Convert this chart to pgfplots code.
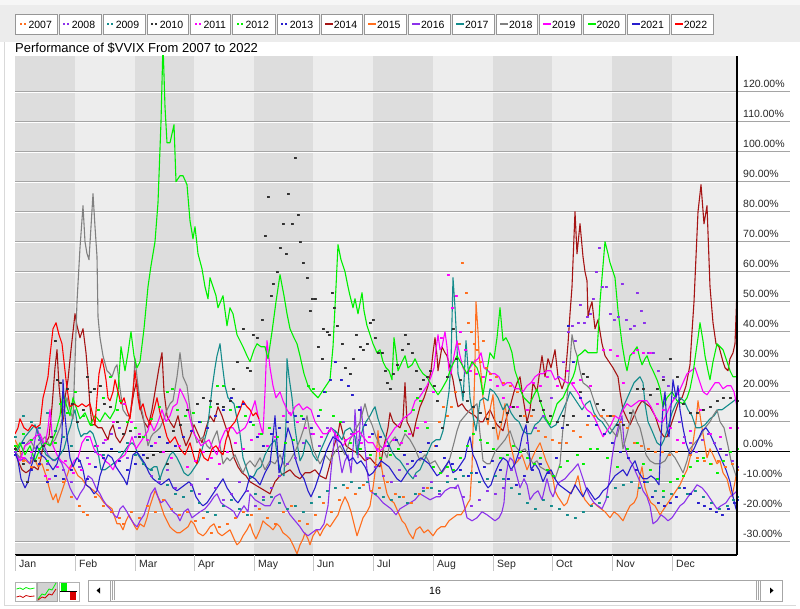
\documentclass[border=0pt]{standalone}
\usepackage{pgfplots}
\pgfplotsset{compat=1.18}
\usepackage{fontspec}
\setmainfont{Liberation Sans}
\definecolor{c07}{RGB}{255,110,30}
\definecolor{c08}{RGB}{140,50,235}
\definecolor{c09}{RGB}{20,140,140}
\definecolor{c10}{RGB}{50,50,50}
\definecolor{c11}{RGB}{255,0,255}
\definecolor{c12}{RGB}{0,240,0}
\definecolor{c13}{RGB}{40,30,205}
\definecolor{c14}{RGB}{165,20,20}
\definecolor{c15}{RGB}{255,110,30}
\definecolor{c16}{RGB}{140,50,235}
\definecolor{c17}{RGB}{20,140,140}
\definecolor{c18}{RGB}{128,128,128}
\definecolor{c19}{RGB}{255,0,255}
\definecolor{c20}{RGB}{0,240,0}
\definecolor{c21}{RGB}{40,30,205}
\definecolor{c22}{RGB}{255,0,0}
\definecolor{banddark}{RGB}{221,221,221}
\definecolor{bandlight}{RGB}{237,237,237}
\definecolor{gridg}{RGB}{165,165,165}
\definecolor{stripg}{RGB}{236,236,236}
\begin{document}
\begin{tikzpicture}[x=1pt,y=1pt]
\fill[white] (0,0) rectangle (800,608);
\fill[stripg] (0,566) rectangle (800,603);
\fill[white!50!stripg] (0,603) rectangle (800,608);
\draw[gray!30] (4,3) -- (4,566);
\draw[gray!30] (4,3) -- (796,3);
% legend
\foreach \xl/\xr/\col/\lab in {15.7/57.3/c07/2007,59/101/c08/2008,103/145/c09/2009,147/188.7/c10/2010,190.7/230.7/c11/2011,232.7/275/c12/2012,277/319.3/c13/2013}{
  \draw[fill=white, draw={rgb,255:red,150;green,150;blue,150}, line width=0.8pt] (\xl,573.3) rectangle (\xr,594);
  \fill[\col] ({\xl+4.3},582.9) rectangle ++(1.7,1.7);
  \fill[\col] ({\xl+8.3},582.9) rectangle ++(1.7,1.7);
  \node[anchor=base west, inner sep=0pt, font=\fontsize{10.5}{12}\selectfont] at ({\xl+12.6},579.8) {\lab};
}
\foreach \xl/\xr/\col/\lab in {321/362.3/c14/2014,364.3/406.3/c15/2015,408.3/450.7/c16/2016,452.3/494.3/c17/2017,496.3/537.3/c18/2018,539.3/581.7/c19/2019,583.7/625.7/c20/2020,627.7/669.3/c21/2021,671/713.3/c22/2022}{
  \draw[fill=white, draw={rgb,255:red,150;green,150;blue,150}, line width=0.8pt] (\xl,573.3) rectangle (\xr,594);
  \fill[\col] ({\xl+4},582.7) rectangle ({\xl+12},584.7);
  \node[anchor=base west, inner sep=0pt, font=\fontsize{10.5}{12}\selectfont] at ({\xl+12.6},579.8) {\lab};
}
% title
\node[anchor=base west, inner sep=0pt, font=\fontsize{13}{15}\selectfont] at (15,555.8) {Performance of \$VVIX From 2007 to 2022};
% gridline extensions to the right
\foreach \v in {-30,-20,...,120}{
  \draw[gridg, line width=0.9pt] (737,{156.3+3*\v}) -- (790,{156.3+3*\v});
  \draw[white, line width=0.6pt] (737,{156.3+3*\v-1}) -- (790,{156.3+3*\v-1});
}
\draw[black, line width=1.1pt] (737,156.3) -- (790,156.3);
\begin{axis}[at={(15pt,53pt)}, anchor=south west, width=722pt, height=499pt, scale only axis,
  xmin=15, xmax=737, ymin=-34.4, ymax=131.9,
  axis line style={draw=none}, major tick length=0pt, xtick=\empty,
  ytick={-30,-20,-10,0,10,20,30,40,50,60,70,80,90,100,110,120}, yticklabel pos=right,
  yticklabel={\pgfmathprintnumber[fixed,fixed zerofill,precision=2,assume math mode=true]{\tick}\%},
  yticklabel style={anchor=base west, inner sep=0pt, xshift=6pt, yshift=4.5pt, font=\fontsize{10.5}{12}\selectfont, text={rgb,255:red,40;green,40;blue,40}},
  line join=round]
\fill[bandlight] (axis cs:15,-34.4) rectangle (axis cs:737,131.9);
\fill[banddark] (axis cs:15,-34.4) rectangle (axis cs:75,131.9);
\fill[banddark] (axis cs:135,-34.4) rectangle (axis cs:194,131.9);
\fill[banddark] (axis cs:254,-34.4) rectangle (axis cs:313,131.9);
\fill[banddark] (axis cs:373,-34.4) rectangle (axis cs:433,131.9);
\fill[banddark] (axis cs:493,-34.4) rectangle (axis cs:552,131.9);
\fill[banddark] (axis cs:612,-34.4) rectangle (axis cs:672,131.9);
\pgfplotsinvokeforeach{-30,-20,-10,0,10,20,30,40,50,60,70,80,90,100,110,120}{
  \draw[gridg, line width=0.9pt] (axis cs:15,#1) -- (axis cs:737,#1);
  \draw[white, line width=0.6pt] ([yshift=-1pt]axis cs:15,#1) -- ([yshift=-1pt]axis cs:737,#1);
}
\draw[black, line width=1.1pt] (axis cs:15,0) -- (axis cs:737,0);
% ---- dotted series 2007-2013
\addplot[only marks, mark=square*, mark size=0.85pt, c07, mark options={draw=none,fill=c07}] coordinates {
(15,2)(23,-3)(31,-5)(39,-2)(47,-6)(55,-8)(63,-10)(71,-15)(79,-18)(83,-20)(87,-21)(95,-15)(103,-18)(111,-20)(119,-22)(123,-24)(131,-20)(139,-22)(147,-18)(155,-20)(163,-16)(171,-19)(179,-21)(187,-20)(195,-23)(203,-22)(211,-27)(219,-25)(227,-24)(235,-22)(243,-20)(251,-21)(259,-19)(267,-22)(275,-24)(283,-20)(291,-18)(299,-23)(307,-24)(315,-21)(323,-17)(331,-20)(339,-16)(347,-12)(355,-14)(363,-11)(371,-13)(379,-12)(387,-10)(395,-14)(403,-15)(411,-17)(419,-14)(427,-12)(435,2)(439,10)(443,15)(447,12)(451,15)(455,20)(459,36)(462,63)(466,53)(468,43)(471,40)(474,36)(477,34)(480,30)(483,37)(486,28)(490,26)(496,25)(503,23)(510,22)(517,20)(524,12)(531,12)(538,7)(545,5)(552,4)(559,3)(566,3)(573,7)(580,5)(587,9)(594,12)(601,12)(607,12)(613,12)(620,10)(627,8)(634,3)(641,2)(648,1)(655,0)(662,0)(669,-1)(676,0)(683,3)(690,-1)(697,-2)(704,-3)(711,-4)(718,-3)(725,-5)(732,-4)(737,-6)};
\addplot[only marks, mark=square*, mark size=0.85pt, c08, mark options={draw=none,fill=c08}] coordinates {
(15,0)(23,3)(31,-2)(39,4)(47,-4)(55,-8)(63,-6)(71,-10)(79,-5)(87,-2)(95,0)(103,3)(111,6)(119,8)(127,-2)(135,5)(143,-4)(151,-8)(159,-10)(167,-6)(175,-12)(183,-15)(191,-11)(199,-14)(207,-9)(215,-12)(223,-16)(231,-14)(239,-10)(247,-13)(255,-18)(263,-15)(271,-12)(279,-8)(287,-4)(295,-2)(303,3)(311,6)(319,2)(327,8)(335,5)(343,10)(351,6)(359,4)(367,-2)(375,-5)(383,-8)(391,-10)(399,-6)(407,-4)(415,-8)(423,-12)(431,-10)(439,-14)(447,-8)(455,-12)(463,-15)(471,-18)(479,-16)(487,-13)(495,-14)(503,-12)(511,-6)(519,-2)(527,3)(535,8)(543,12)(551,18)(558,25)(563,30)(568,40)(572,42)(575,37)(578,43)(580,49)(584,43)(587,45)(590,46)(593,51)(596,60)(599,68)(602,55)(606,55)(610,46)(614,44)(618,45)(622,56)(626,44)(630,41)(634,42)(637,53)(641,47)(644,43)(648,33)(653,33)(658,27)(663,25)(668,22)(674,18)(679,10)(684,5)(690,3)(696,0)(702,4)(708,6)(714,3)(720,1)(726,-1)(732,-3)(737,-5)};
\addplot[only marks, mark=square*, mark size=0.85pt, c09, mark options={draw=none,fill=c09}] coordinates {
(15,5)(23,12)(31,10)(39,8)(47,13)(55,7)(63,5)(71,2)(79,-3)(87,4)(95,2)(103,-1)(111,1)(119,0)(127,3)(135,-1)(143,-4)(151,-6)(159,-9)(167,-11)(175,-14)(183,-15)(191,-13)(199,-17)(207,-20)(215,-21)(223,-18)(231,-16)(239,-19)(247,-21)(255,-14)(263,-16)(271,-15)(279,-17)(287,-19)(295,-18)(303,-20)(311,-17)(319,-15)(327,-13)(335,-12)(343,-11)(351,-10)(359,-12)(367,-10)(375,-14)(383,-15)(391,-16)(399,-15)(407,-17)(415,-14)(423,-13)(431,-12)(439,-13)(447,-10)(455,-9)(463,-8)(471,-7)(479,-10)(487,-9)(495,-8)(503,-9)(511,-12)(519,-14)(527,-17)(535,-19)(543,-16)(551,-18)(559,-19)(567,-21)(575,-22)(583,-20)(591,-18)(599,-17)(607,-15)(615,-12)(623,-11)(631,-10)(639,-12)(647,-10)(655,-13)(663,-15)(671,-14)(679,-12)(687,-14)(695,-13)(703,-15)(711,-17)(719,-19)(727,-18)(733,-16)(737,-15)};
\addplot[only marks, mark=square*, mark size=0.85pt, c10, mark options={draw=none,fill=c10}] coordinates {
(15,1)(23,-4)(27,-10)(35,-3)(43,2)(51,5)(55,37)(57,24)(60,23)(67,21)(72,16)(77,10)(83,14)(87,25)(90,20)(94,21)(100,22)(104,16)(110,15)(117,10)(123,6)(130,7)(139,5)(147,-2)(153,-1)(160,0)(167,-4)(173,7)(180,9)(187,14)(197,16)(203,18)(210,17)(217,16)(223,15)(230,17)(233,21)(237,30)(243,41)(247,28)(250,27)(253,39)(257,38)(262,44)(265,72)(268,85)(271,52)(273,56)(277,60)(280,68)(283,76)(286,66)(288,86)(292,76)(295,98)(298,79)(300,70)(303,63)(307,58)(310,47)(312,51)(315,51)(318,35)(322,31)(323,41)(327,40)(329,39)(332,53)(334,48)(337,42)(342,36)(345,28)(350,26)(353,31)(356,39)(360,35)(363,34)(367,36)(370,43)(373,44)(375,38)(378,33)(382,33)(385,27)(387,23)(390,21)(393,26)(397,29)(402,34)(405,39)(408,36)(412,33)(416,27)(420,21)(423,24)(427,25)(430,27)(434,22)(437,17)(442,8)(447,25)(453,41)(456,31)(460,24)(463,20)(467,17)(473,15)(480,13)(487,11)(493,8)(500,10)(507,13)(513,15)(520,12)(527,10)(533,14)(540,17)(543,14)(550,12)(557,10)(563,12)(567,9)(573,12)(580,20)(583,26)(587,25)(590,22)(597,16)(603,14)(610,12)(617,9)(623,9)(630,13)(637,21)(643,21)(650,19)(657,21)(663,24)(670,31)(677,25)(683,16)(690,13)(697,13)(703,14)(710,15)(717,17)(723,18)(730,18)(737,17)};
\addplot[only marks, mark=square*, mark size=0.85pt, c11, mark options={draw=none,fill=c11}] coordinates {
(15,2)(23,-2)(31,0)(39,-4)(45,-8)(49,-9)(57,-5)(65,-3)(73,-7)(81,-6)(89,-4)(97,2)(105,4)(113,10)(120,17)(124,16)(131,10)(139,6)(147,4)(155,3)(163,0)(171,-2)(179,2)(187,-5)(195,-3)(203,0)(211,-2)(219,-4)(227,0)(235,3)(243,1)(251,4)(259,6)(267,2)(275,5)(283,12)(289,13)(297,10)(305,8)(313,6)(321,5)(329,7)(337,5)(345,4)(353,6)(361,3)(369,5)(377,1)(385,2)(393,4)(401,3)(409,6)(417,8)(425,10)(433,20)(441,38)(448,59)(452,48)(456,52)(460,40)(465,34)(470,27)(476,26)(483,25)(490,24)(497,22)(503,18)(510,15)(517,15)(527,14)(533,23)(540,22)(547,25)(557,22)(567,27)(573,23)(580,24)(590,22)(603,34)(610,34)(617,32)(623,23)(633,33)(637,34)(643,33)(650,33)(657,16)(663,14)(670,8)(677,4)(683,3)(690,7)(700,14)(710,6)(720,5)(730,8)(737,8)};
\addplot[only marks, mark=square*, mark size=0.85pt, c12, mark options={draw=none,fill=c12}] coordinates {
(15,2)(23,6)(31,4)(39,1)(47,-3)(55,3)(60,16)(67,13)(75,20)(83,12)(91,9)(98,14)(103,18)(110,25)(117,14)(120,17)(127,10)(135,8)(143,5)(151,11)(159,15)(167,20)(172,21)(177,14)(185,12)(193,13)(200,10)(210,15)(217,22)(223,22)(230,14)(237,15)(245,12)(253,9)(261,6)(269,8)(277,5)(285,3)(293,4)(301,12)(308,22)(313,21)(320,14)(325,20)(333,12)(340,10)(350,3)(360,1)(370,-1)(380,-2)(390,-1)(398,1)(405,7)(413,14)(417,18)(420,17)(427,8)(433,-5)(440,-7)(447,-5)(453,-6)(460,-2)(467,2)(473,6)(480,4)(487,3)(493,1)(500,-2)(507,-1)(513,2)(520,0)(527,-2)(534,-4)(540,-2)(547,-6)(553,-8)(560,-5)(567,-3)(577,-1)(583,-4)(590,1)(597,1)(607,-2)(617,-5)(627,1)(637,3)(643,-4)(650,-6)(657,-9)(663,-13)(670,-10)(677,-9)(683,-8)(690,-5)(697,-3)(703,-2)(710,-4)(717,-7)(723,-3)(730,0)(737,1)};
\addplot[only marks, mark=square*, mark size=0.85pt, c13, mark options={draw=none,fill=c13}] coordinates {
(15,-1)(23,3)(31,-6)(39,-4)(47,-10)(55,-8)(63,-9)(71,-6)(79,-3)(87,-9)(95,-5)(103,-2)(111,1)(119,-3)(127,-6)(135,-4)(143,-1)(151,2)(159,5)(167,3)(175,2)(183,5)(191,7)(199,10)(207,8)(215,12)(223,14)(231,18)(239,15)(243,16)(250,10)(257,5)(263,2)(271,6)(279,8)(287,10)(295,12)(303,11)(311,8)(318,12)(324,20)(330,24)(335,30)(341,24)(348,22)(352,19)(359,14)(365,9)(372,6)(380,5)(388,2)(396,4)(404,-1)(412,-3)(420,0)(428,3)(436,2)(444,-2)(452,-4)(460,-6)(468,-8)(476,-7)(484,-5)(492,-3)(500,-6)(508,-9)(516,-11)(524,-8)(532,-6)(540,-4)(548,-7)(556,-2)(562,8)(568,42)(573,30)(580,18)(588,12)(596,9)(604,6)(612,3)(620,0)(628,-2)(636,-6)(644,-10)(652,-15)(658,-17)(664,-18)(670,-17)(676,-15)(684,-12)(690,-14)(698,-17)(704,-18)(710,-19)(716,-20)(722,-21)(728,-19)(734,-17)(737,-16)};
% ---- line series 2014-2022
\addplot[c14, line width=1.1pt] coordinates {
(15,2)(18,-3)(22,-6)(26,-7)(30,-6)(34,-5)(38,-6)(41,-2)(43,2)(46,3)(49,5)(52,15)(55,28)(57,34)(59,22)(61,15)(63,10)(65,18)(68,24)(71,34)(73,40)(75,46)(77,42)(80,38)(83,41)(86,33)(88,25)(90,15)(92,9)(95,9)(98,8)(102,8)(105,6)(108,4)(110,7)(113,9)(116,5)(120,3)(125,6)(130,12)(134,20)(137,24)(140,15)(144,10)(148,8)(152,14)(156,22)(159,28)(162,33)(164,20)(167,12)(170,10)(174,8)(178,12)(182,6)(186,2)(190,5)(194,9)(198,6)(202,3)(206,8)(210,12)(214,10)(218,15)(222,12)(226,8)(230,4)(234,-2)(238,-5)(242,-7)(246,-8)(250,-10)(255,-11)(260,-12)(265,-13)(270,-14)(275,-10)(280,-8)(285,-7)(290,-6)(295,-8)(300,-9)(305,-7)(310,-7)(315,-6)(320,-8)(326,-9)(330,-4)(334,2)(338,6)(340,10)(343,6)(346,2)(350,1)(355,0)(360,-1)(365,-3)(370,-2)(375,-4)(380,-5)(384,2)(388,8)(390,13)(393,10)(396,9)(400,8)(403,11)(405,23)(407,10)(410,8)(413,5)(416,10)(420,15)(424,18)(428,22)(431,27)(433,33)(435,38)(437,32)(438,27)(440,31)(442,35)(445,33)(447,32)(450,28)(453,24)(456,18)(458,15)(462,16)(466,14)(470,13)(475,12)(480,10)(483,10)(486,12)(490,14)(494,11)(497,9)(500,8)(503,7)(507,12)(510,15)(514,20)(517,23)(520,25)(523,18)(527,10)(530,14)(533,23)(537,20)(539,25)(542,32)(545,25)(548,31)(551,28)(555,34)(558,25)(562,21)(565,24)(568,36)(570,46)(572,55)(575,80)(577,66)(580,76)(583,65)(585,60)(587,57)(588,45)(590,48)(592,50)(595,41)(598,44)(602,36)(605,32)(609,30)(613,28)(618,25)(620,20)(623,14)(627,11)(630,9)(634,12)(638,15)(642,17)(646,16)(650,15)(655,12)(660,7)(664,5)(667,5)(671,9)(675,13)(679,17)(682,18)(686,22)(690,29)(692,40)(694,50)(696,65)(698,80)(701,89)(704,76)(707,82)(710,55)(713,43)(716,36)(719,35)(723,30)(725,28)(728,27)(730,31)(733,33)(735,36)(737,54)};
\addplot[c15, line width=1.1pt] coordinates {
(15,4)(18,2)(22,-2)(26,-3)(30,-4)(34,-2)(38,-5)(42,-4)(46,-8)(50,-13)(53,-16)(56,-14)(58,-17)(61,-14)(64,-11)(67,-8)(70,-5)(72,-4)(75,-6)(78,-8)(82,-9)(86,-11)(90,-12)(94,-13)(97,-14)(100,-15)(104,-17)(108,-18)(112,-19)(115,-22)(117,-24)(120,-24)(123,-26)(126,-23)(129,-21)(132,-23)(135,-25)(137,-26)(140,-24)(144,-25)(147,-22)(150,-18)(153,-15)(155,-13)(158,-15)(161,-18)(164,-21)(167,-23)(170,-25)(173,-26)(177,-27)(180,-27)(184,-26)(188,-25)(191,-23)(194,-24)(198,-27)(203,-28)(206,-27)(210,-25)(214,-24)(218,-27)(222,-28)(226,-27)(230,-26)(234,-29)(237,-31)(240,-30)(243,-28)(247,-26)(250,-24)(253,-27)(256,-29)(260,-26)(263,-23)(266,-24)(270,-25)(273,-26)(277,-24)(280,-25)(283,-27)(287,-28)(290,-29)(293,-31)(297,-34)(300,-31)(303,-29)(305,-27)(308,-29)(310,-31)(313,-28)(317,-26)(320,-28)(323,-26)(327,-24)(330,-25)(334,-23)(338,-21)(341,-18)(345,-15)(348,-17)(351,-20)(354,-24)(357,-28)(360,-25)(363,-22)(367,-20)(370,-18)(373,-12)(375,-7)(377,2)(378,7)(380,-2)(383,-8)(387,-14)(390,-16)(394,-17)(398,-20)(402,-23)(405,-24)(409,-27)(413,-29)(416,-26)(420,-25)(424,-27)(428,-26)(433,-28)(437,-26)(441,-25)(445,-25)(449,-23)(453,-22)(457,-21)(461,-21)(465,-19)(468,-17)(470,-16)(472,-5)(473,6)(475,30)(476,50)(478,40)(479,33)(481,26)(483,18)(486,12)(488,9)(490,14)(493,19)(495,10)(498,4)(500,7)(503,12)(505,16)(508,8)(510,3)(513,-1)(515,-4)(518,-3)(522,-1)(525,-4)(527,-6)(531,-3)(535,0)(540,3)(543,0)(546,-3)(550,-6)(553,-9)(555,-13)(558,-15)(560,-16)(564,-18)(567,-17)(570,-14)(574,-12)(578,-8)(581,-13)(585,-16)(590,-18)(594,-17)(597,-18)(601,-19)(605,-20)(610,-22)(614,-20)(618,-21)(623,-23)(627,-20)(630,-18)(634,-17)(637,-15)(640,-8)(642,-5)(645,-12)(648,-15)(651,-17)(655,-18)(660,-21)(664,-19)(668,-17)(672,-15)(676,-13)(680,-11)(684,-8)(687,-6)(690,-2)(693,3)(696,10)(698,17)(701,10)(704,4)(707,-2)(710,1)(713,-1)(717,-4)(720,-3)(723,-7)(727,-9)(730,-13)(732,-15)(735,-10)(737,-6)};
\addplot[c16, line width=1.1pt] coordinates {
(15,0)(20,-3)(25,-2)(30,-4)(34,2)(37,8)(40,5)(44,2)(48,-1)(53,-3)(58,-2)(62,-4)(66,-8)(70,-12)(73,-14)(77,-16)(80,-14)(84,-12)(88,-8)(92,-9)(96,-12)(100,-14)(103,-16)(107,-18)(110,-19)(114,-21)(117,-22)(120,-19)(123,-18)(127,-20)(130,-22)(134,-24)(137,-25)(140,-23)(144,-21)(148,-17)(151,-14)(155,-12)(158,-15)(161,-17)(165,-16)(169,-18)(173,-20)(177,-21)(180,-23)(184,-20)(188,-19)(192,-22)(196,-21)(200,-20)(205,-19)(210,-17)(214,-15)(217,-14)(221,-17)(225,-18)(230,-19)(234,-20)(237,-22)(240,-20)(244,-18)(248,-20)(250,-14)(255,-16)(260,-17)(265,-18)(270,-18)(275,-15)(280,-14)(285,-18)(290,-21)(295,-23)(300,-25)(304,-27)(308,-28)(312,-27)(316,-26)(320,-26)(324,-24)(328,-18)(330,-10)(332,-3)(335,7)(338,1)(342,-7)(345,-3)(348,-1)(351,-7)(354,5)(355,14)(358,-2)(361,15)(364,5)(367,-6)(370,-13)(374,-14)(378,-15)(383,-17)(387,-18)(391,-19)(396,-21)(400,-19)(405,-18)(410,-17)(415,-16)(420,-14)(425,-15)(430,-16)(436,-15)(440,-15)(445,-13)(450,-12)(455,-12)(458,-11)(462,-15)(465,-19)(467,-22)(472,-23)(477,-22)(482,-20)(487,-21)(491,-22)(495,-23)(499,-22)(502,-20)(504,-17)(506,-8)(508,-4)(510,-2)(513,-3)(516,-7)(520,-12)(524,-9)(527,-11)(530,-16)(534,-14)(538,-13)(542,-16)(547,-9)(550,-13)(553,-15)(557,-11)(560,-10)(565,-9)(570,-7)(573,-6)(578,-4)(582,-8)(586,-12)(590,-15)(594,-17)(598,-18)(602,-19)(606,-16)(609,-10)(612,-2)(615,4)(618,8)(622,12)(624,3)(628,-2)(632,-4)(636,-7)(640,-10)(643,-13)(647,-15)(650,-18)(653,-24)(657,-23)(661,-21)(665,-22)(668,-23)(672,-22)(676,-20)(680,-18)(684,-17)(688,-15)(693,-13)(697,-11)(702,-12)(707,-14)(713,-17)(717,-19)(721,-18)(726,-17)(730,-15)(734,-14)(737,-13)};
\addplot[c17, line width=1.1pt] coordinates {
(15,-1)(20,2)(25,5)(30,7)(35,9)(38,6)(42,2)(46,-1)(50,-2)(55,-3)(60,-1)(64,1)(68,6)(71,9)(73,12)(75,14)(78,8)(81,5)(84,6)(87,6)(90,7)(93,6)(96,3)(98,0)(101,-6)(105,-6)(109,-5)(113,-4)(117,-3)(120,-2)(124,0)(128,2)(132,3)(135,2)(138,-1)(142,-3)(146,-5)(150,-6)(154,-5)(157,-5)(160,-9)(163,-6)(166,-4)(170,-1)(173,0)(177,-2)(180,-4)(184,-7)(188,-8)(191,-7)(195,-5)(199,-3)(203,2)(207,7)(210,15)(212,21)(215,28)(217,32)(220,36)(222,30)(225,22)(228,18)(231,17)(234,16)(237,11)(240,6)(243,-2)(247,-6)(250,-9)(254,-8)(257,-6)(261,-5)(265,-1)(270,2)(275,4)(278,-3)(281,-7)(284,-8)(286,10)(287,31)(289,25)(292,18)(295,8)(298,1)(300,-3)(303,-1)(306,4)(310,2)(313,-1)(317,-3)(320,0)(324,3)(328,6)(331,8)(335,7)(338,6)(342,4)(345,7)(350,8)(355,5)(357,-1)(360,4)(363,8)(366,10)(370,12)(373,14)(375,15)(378,11)(381,8)(385,5)(388,3)(392,0)(396,-2)(400,-3)(404,-5)(408,-7)(413,-9)(416,-7)(420,-6)(424,-3)(428,0)(432,3)(436,4)(440,4)(443,7)(446,13)(449,20)(451,30)(453,58)(455,48)(457,35)(458,26)(461,22)(463,17)(466,37)(468,28)(470,18)(473,12)(476,7)(478,12)(480,17)(484,18)(488,17)(490,21)(494,20)(498,18)(503,14)(507,16)(511,13)(515,11)(519,10)(523,7)(527,6)(531,6)(535,9)(539,10)(543,12)(547,10)(551,8)(556,9)(560,12)(563,14)(567,17)(570,20)(574,18)(578,16)(582,14)(586,16)(590,17)(594,13)(598,11)(602,10)(606,8)(610,6)(614,8)(618,10)(622,14)(626,17)(630,20)(634,23)(637,24)(640,25)(643,23)(645,16)(648,10)(652,7)(657,3)(661,2)(664,4)(668,8)(672,13)(676,16)(680,18)(684,17)(688,14)(692,12)(696,8)(700,8)(705,9)(710,11)(714,12)(718,14)(722,14)(726,15)(730,16)(734,17)(737,18)};
\addplot[c18, line width=1.1pt] coordinates {
(15,0)(20,-2)(25,2)(30,4)(35,1)(40,3)(45,5)(50,2)(55,4)(60,8)(63,12)(67,18)(70,14)(73,11)(75,30)(77,50)(80,68)(83,82)(85,70)(87,66)(89,64)(91,75)(93,86)(95,75)(97,65)(98,45)(100,38)(103,32)(107,27)(110,26)(112,25)(115,28)(117,29)(120,21)(123,14)(127,12)(130,12)(133,20)(135,31)(138,22)(141,15)(143,12)(146,6)(148,2)(151,5)(153,6)(157,7)(160,8)(164,11)(167,14)(170,16)(173,17)(177,25)(180,33)(183,25)(187,22)(190,14)(193,8)(197,3)(200,4)(203,5)(207,2)(210,1)(213,4)(217,7)(220,2)(223,-4)(227,-2)(230,-3)(235,-1)(240,-5)(243,-7)(247,-4)(250,-3)(255,-5)(260,-2)(265,-6)(270,-3)(275,-4)(280,-1)(285,-5)(290,-3)(295,0)(300,4)(304,8)(307,12)(310,6)(313,1)(317,-2)(320,-4)(325,-1)(330,-3)(335,0)(340,2)(345,-1)(350,4)(355,7)(360,10)(365,16)(368,12)(372,9)(376,5)(380,2)(383,1)(387,-2)(390,3)(395,5)(400,2)(405,6)(410,4)(415,1)(420,-3)(425,-1)(430,-4)(435,-3)(442,-7)(446,-5)(450,-2)(454,3)(457,7)(460,10)(465,12)(470,14)(477,16)(480,6)(483,-3)(487,-4)(490,-4)(495,0)(500,2)(505,4)(510,7)(515,2)(520,0)(525,1)(530,-2)(533,-4)(537,-3)(540,-5)(545,-6)(550,-7)(555,-9)(560,-4)(563,8)(567,18)(570,30)(572,39)(575,34)(577,32)(580,27)(583,23)(587,22)(590,21)(594,17)(597,14)(600,12)(604,11)(608,9)(612,7)(617,5)(620,9)(623,1)(627,6)(630,10)(633,14)(637,10)(640,8)(643,4)(646,-1)(650,-3)(655,-4)(660,-4)(665,-3)(670,0)(675,-2)(680,-5)(683,-7)(687,-3)(690,1)(695,3)(700,5)(705,8)(710,10)(713,12)(717,14)(720,10)(724,8)(728,2)(731,-3)(734,-6)(737,-9)};
\addplot[c19, line width=1.1pt] coordinates {
(15,-1)(20,-3)(25,2)(30,3)(35,5)(40,6)(45,2)(48,8)(50,14)(53,2)(57,-1)(61,-3)(65,-4)(70,-6)(74,-3)(78,-2)(82,3)(86,5)(90,5)(94,1)(98,-1)(101,-1)(105,-3)(109,-4)(113,-6)(117,-3)(121,-2)(125,-1)(129,2)(132,5)(136,1)(140,3)(144,5)(148,7)(150,10)(154,7)(158,10)(162,14)(166,10)(170,12)(173,15)(177,16)(180,21)(183,19)(187,16)(190,11)(194,6)(198,4)(201,2)(205,3)(209,4)(213,1)(217,-1)(221,4)(225,7)(229,8)(233,8)(237,6)(241,7)(245,8)(248,10)(252,14)(255,17)(258,12)(261,8)(263,6)(265,20)(267,37)(270,28)(273,22)(276,18)(280,20)(283,17)(287,14)(291,12)(295,15)(299,16)(303,14)(307,15)(311,14)(315,10)(319,8)(323,6)(327,6)(331,8)(335,6)(339,4)(343,2)(347,4)(351,5)(355,6)(359,7)(363,5)(368,3)(373,3)(378,0)(383,1)(387,4)(391,6)(395,8)(399,9)(403,11)(407,12)(411,13)(415,17)(419,18)(423,20)(427,22)(431,25)(434,28)(436,34)(438,39)(440,34)(442,35)(445,40)(447,35)(449,27)(451,26)(454,32)(457,37)(460,32)(463,28)(466,26)(470,28)(474,30)(478,31)(481,33)(484,28)(488,27)(491,26)(495,26)(499,25)(503,22)(507,23)(511,23)(515,21)(519,21)(523,20)(527,22)(531,23)(535,25)(539,26)(543,26)(547,27)(551,27)(555,24)(559,25)(563,24)(567,23)(571,23)(575,21)(579,19)(583,16)(587,14)(591,13)(595,11)(599,8)(603,5)(607,7)(611,9)(615,12)(619,11)(623,14)(627,16)(631,15)(635,16)(639,17)(643,17)(647,17)(651,15)(655,12)(659,10)(663,10)(667,13)(671,16)(675,18)(679,20)(683,23)(687,26)(691,27)(695,28)(699,24)(703,20)(707,19)(711,21)(715,23)(719,23)(723,21)(727,22)(731,22)(734,20)(737,15)};
\addplot[c20, line width=1.1pt] coordinates {
(15,0)(20,3)(25,-1)(30,2)(35,-3)(40,1)(45,3)(50,2)(55,6)(60,12)(63,20)(66,16)(70,12)(73,18)(77,14)(80,11)(85,13)(90,9)(95,12)(100,10)(105,13)(110,11)(115,14)(118,20)(121,35)(125,27)(128,33)(131,40)(134,32)(137,28)(140,30)(144,41)(148,55)(151,62)(155,70)(158,83)(161,110)(163,136)(165,115)(167,103)(170,103)(174,109)(176,90)(180,92)(183,92)(187,89)(190,77)(193,71)(195,75)(198,66)(202,61)(205,55)(208,51)(210,58)(213,55)(216,52)(218,48)(223,52)(227,42)(230,48)(233,46)(237,39)(240,37)(243,35)(247,32)(250,30)(254,34)(257,36)(261,35)(265,35)(268,31)(272,40)(276,50)(280,59)(284,52)(287,46)(290,41)(294,38)(297,36)(300,32)(304,26)(308,22)(312,20)(315,19)(318,18)(322,20)(326,22)(330,24)(333,35)(336,55)(338,69)(341,64)(345,60)(348,55)(350,52)(353,48)(355,51)(358,46)(362,53)(364,47)(367,42)(370,39)(373,36)(377,33)(380,34)(383,30)(386,28)(389,27)(392,24)(394,38)(396,33)(398,27)(402,30)(405,32)(408,28)(412,29)(415,31)(419,28)(423,26)(427,25)(430,23)(434,21)(438,19)(442,21)(447,24)(451,28)(457,32)(462,29)(467,26)(472,30)(477,28)(480,25)(483,19)(487,27)(490,33)(494,31)(497,38)(500,48)(503,37)(506,38)(509,36)(512,33)(515,27)(518,24)(521,20)(524,18)(527,17)(530,16)(534,19)(537,21)(540,17)(543,14)(546,11)(550,9)(553,12)(557,16)(560,17)(563,18)(567,21)(570,23)(573,25)(575,27)(578,32)(582,33)(585,34)(588,33)(592,33)(597,33)(600,50)(603,62)(605,70)(608,66)(610,63)(613,60)(615,58)(618,47)(622,36)(625,30)(627,27)(630,32)(633,33)(637,35)(640,31)(642,29)(645,31)(647,32)(650,29)(653,27)(657,24)(660,21)(663,15)(667,18)(672,20)(677,17)(683,16)(687,18)(690,21)(693,26)(695,31)(698,38)(700,43)(703,37)(705,32)(708,27)(710,24)(713,30)(717,36)(720,35)(723,34)(727,30)(730,27)(733,25)(737,25)};
\addplot[c21, line width=1.1pt] coordinates {
(15,0)(18,-3)(21,-9)(25,-12)(28,-10)(31,-5)(34,-2)(37,2)(41,-1)(45,-2)(49,-4)(53,-6)(57,-4)(60,0)(62,5)(63,24)(65,12)(67,5)(70,-2)(73,-5)(77,-2)(80,-3)(83,-6)(86,-11)(90,-12)(94,-14)(97,-13)(100,-8)(104,-4)(108,-1)(112,-2)(116,-5)(120,-7)(124,-9)(127,-11)(130,-6)(133,-1)(137,0)(141,-2)(145,-4)(149,-7)(153,-9)(157,-10)(161,-11)(165,-10)(169,-9)(173,-12)(177,-13)(181,-12)(185,-11)(189,-10)(192,-11)(196,-15)(200,-17)(203,-18)(207,-17)(211,-15)(215,-13)(219,-11)(223,-9)(227,-12)(231,-14)(235,-16)(238,-17)(242,-15)(246,-13)(250,-8)(255,-9)(260,-11)(265,-7)(270,-4)(273,5)(275,12)(277,3)(279,-7)(282,-4)(285,3)(288,8)(292,4)(296,-3)(300,-7)(304,-9)(308,-13)(311,-15)(315,-12)(319,-8)(322,-5)(326,0)(330,3)(333,5)(337,4)(341,3)(345,0)(349,-3)(353,-2)(357,-4)(361,-3)(365,-5)(369,-8)(373,-7)(377,-5)(381,-3)(385,-4)(389,-5)(393,-7)(397,-9)(401,-10)(405,-8)(409,-6)(413,-5)(417,-3)(421,-2)(425,-3)(429,-4)(433,-6)(437,-8)(441,-7)(445,-5)(449,-3)(453,-7)(457,-6)(461,-4)(465,-2)(468,3)(470,5)(473,-1)(476,-3)(480,-7)(484,-10)(488,-12)(491,-11)(495,-7)(499,-4)(503,-2)(507,-3)(511,-6)(515,-4)(519,0)(522,5)(526,9)(528,3)(531,-6)(535,-4)(539,-6)(543,-10)(547,-7)(551,-6)(555,-9)(559,-11)(563,-12)(567,-13)(571,-14)(575,-11)(579,-13)(583,-15)(587,-12)(591,-14)(595,-16)(599,-15)(603,-13)(607,-12)(611,-10)(615,-8)(619,-7)(623,-6)(627,-8)(631,-5)(635,-3)(639,-7)(643,-9)(647,-9)(651,-8)(655,-9)(659,-11)(661,5)(663,15)(665,20)(667,8)(669,5)(671,15)(673,24)(676,18)(678,22)(680,14)(683,8)(686,3)(690,-1)(694,1)(698,4)(702,7)(706,8)(710,6)(714,3)(718,0)(722,-3)(726,-6)(730,-10)(733,-15)(736,-19)(737,-20)};
\addplot[c22, line width=1.1pt] coordinates {
(15,6)(18,8)(20,11)(24,8)(28,7)(32,9)(36,8)(40,9)(43,18)(46,22)(48,25)(50,32)(53,41)(56,43)(59,39)(62,36)(64,30)(66,24)(68,19)(70,15)(74,16)(78,15)(82,16)(86,15)(90,16)(93,12)(95,9)(97,18)(99,26)(102,31)(104,28)(106,24)(108,18)(110,17)(113,20)(115,24)(118,20)(121,16)(124,18)(127,14)(130,11)(133,20)(135,27)(138,18)(140,14)(143,16)(146,12)(150,9)(154,14)(157,18)(160,13)(163,10)(167,5)(170,3)(175,5)(180,1)(185,-1)(190,3)(195,-3)(197,-4)(200,1)(204,-2)(208,-3)(212,1)(216,2)(220,0)(223,-1)(226,4)(230,8)(235,10)(240,14)(243,17)(247,15)(250,14)(253,12)(256,13)(259,11)};
\end{axis}
% axis borders
\draw[black, line width=1.1pt] (737,53) -- (737,552);
\draw[black, line width=1.1pt] (15,53) -- (737,53);
% month labels
\foreach \b/\m in {15/Jan,75/Feb,135/Mar,194/Apr,254/May,313/Jun,373/Jul,433/Aug,493/Sep,552/Oct,612/Nov,672/Dec}{
  \draw[gray!45] (\b,53) -- (\b,37);
  \node[anchor=base west, inner sep=0pt, font=\fontsize{10.5}{12}\selectfont, text={rgb,255:red,40;green,40;blue,40}] at ({\b+4},41) {\m};
}
% toolbar icons
\draw[gray!60, fill=white] (15.3,6.5) rectangle (35.7,26.3);
\draw[c20, line width=0.8pt] (16.5,19) -- (20,20) -- (23,18.5) -- (26,20.5) -- (30,19) -- (34.5,20);
\draw[red!80!black, line width=0.8pt] (16.5,11) -- (20,12) -- (23,10.5) -- (26,12.5) -- (30,11.5) -- (34.5,12);
\draw[gray!70, fill=gray!35] (36.7,6.5) rectangle (57.1,26.3);
\draw[c20, line width=0.8pt] (38,9) -- (42,14) -- (45,13) -- (49,19) -- (52,18) -- (56,25);
\draw[red!80!black, line width=0.8pt] (38,8) -- (42,11) -- (45,10) -- (49,14) -- (52,13) -- (56,19);
\draw[gray!60, fill=white] (58.7,6.5) rectangle (79,26.3);
\fill[c20] (61,16.5) rectangle (67,25);
\fill[red!85!black] (70,8) rectangle (76,16.5);
\draw[black, line width=0.7pt] (60,16.5) -- (77,16.5);
% scroll bar
\draw[gray!70, fill=white] (88,7) rectangle (782,28);
\draw[gray!70, fill=white] (88,7) rectangle (110,28);
\draw[gray!70, fill=white] (760,7) rectangle (782,28);
\fill[black] (96.5,17.5) -- (100,20.5) -- (100,14.5) -- cycle;
\fill[black] (773.5,17.5) -- (770,20.5) -- (770,14.5) -- cycle;
\draw[gray!70] (112,8) -- (112,27);
\draw[gray!70] (114,8) -- (114,27);
\draw[gray!70] (756,8) -- (756,27);
\draw[gray!70] (758,8) -- (758,27);
\node[font=\fontsize{10.5}{12}\selectfont] at (435,17.5) {16};
\end{tikzpicture}
\end{document}
